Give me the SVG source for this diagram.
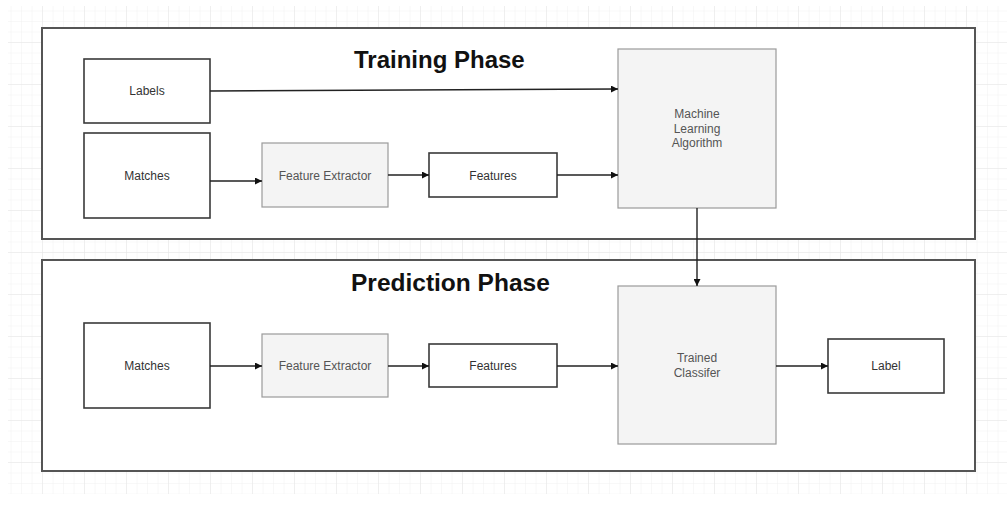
<svg xmlns="http://www.w3.org/2000/svg" width="1007" height="518" viewBox="0 0 1007 518">
  <style>
    .container { fill: #ffffff; stroke: #555555; stroke-width: 2; }
    .box { fill: #ffffff; stroke: #3a3a3a; stroke-width: 1.6; }
    .gbox { fill: #f4f4f4; stroke: #9a9a9a; stroke-width: 1.2; }
    .lbl { font-family: "Liberation Sans", Arial, sans-serif; font-size: 12px; fill: #333333; text-anchor: middle; dominant-baseline: central; }
    .glbl { font-family: "Liberation Sans", Arial, sans-serif; font-size: 12px; fill: #555555; text-anchor: middle; dominant-baseline: central; }
    .title { font-family: "Liberation Sans", Arial, sans-serif; font-size: 24px; font-weight: bold; fill: #111111; }
    .conn { fill: none; stroke: #222222; stroke-width: 1.4; marker-end: url(#arrow); }
  </style>
  <defs>
    <marker id="arrow" viewBox="0 0 10 10" refX="10" refY="5" markerWidth="7" markerHeight="7" markerUnits="userSpaceOnUse" orient="auto">
      <path d="M0,0 L10,5 L0,10 Z" fill="#111111"/>
    </marker>
    <pattern id="minor" width="10.5" height="10.5" patternUnits="userSpaceOnUse" x="0" y="0">
      <path d="M10.5,0 L0,0 L0,10.5" fill="none" stroke="#f1f1f1" stroke-width="1"/>
    </pattern>
    <pattern id="major" width="42" height="42" patternUnits="userSpaceOnUse" x="0" y="0">
      <rect width="42" height="42" fill="url(#minor)"/>
      <path d="M42,0 L0,0 L0,42" fill="none" stroke="#e6e6e6" stroke-width="1"/>
    </pattern>
  </defs>
  <rect width="1007" height="518" fill="#ffffff"/>
  <rect x="8" y="6" width="999" height="488" fill="url(#major)"/>

  <g id="training-phase">
    <rect class="container" x="42" y="28" width="933" height="211"/>
    <text class="title" x="354" y="68">Training Phase</text>
  </g>
  <g id="prediction-phase">
    <rect class="container" x="42" y="260" width="933" height="211"/>
    <text class="title" x="351" y="291" style="font-size:24.5px">Prediction Phase</text>
  </g>

  <g id="labels">
    <rect class="box" x="84" y="59" width="126" height="64"/>
    <text class="lbl" x="147" y="91">Labels</text>
  </g>
  <g id="matches-train">
    <rect class="box" x="84" y="133" width="126" height="85"/>
    <text class="lbl" x="147" y="176">Matches</text>
  </g>
  <g id="feature-extractor-train">
    <rect class="gbox" x="262" y="143" width="126" height="64"/>
    <text class="glbl" x="325" y="176">Feature Extractor</text>
  </g>
  <g id="features-train">
    <rect class="box" x="429" y="153" width="128" height="44"/>
    <text class="lbl" x="493" y="176">Features</text>
  </g>
  <g id="ml-algorithm">
    <rect class="gbox" x="618" y="49" width="158" height="159"/>
    <text class="glbl" x="697" y="114">Machine</text>
    <text class="glbl" x="697" y="128.5">Learning</text>
    <text class="glbl" x="697" y="143">Algorithm</text>
  </g>

  <g id="matches-predict">
    <rect class="box" x="84" y="323" width="126" height="85"/>
    <text class="lbl" x="147" y="366">Matches</text>
  </g>
  <g id="feature-extractor-predict">
    <rect class="gbox" x="262" y="334" width="126" height="63"/>
    <text class="glbl" x="325" y="366">Feature Extractor</text>
  </g>
  <g id="features-predict">
    <rect class="box" x="429" y="344" width="128" height="43"/>
    <text class="lbl" x="493" y="366">Features</text>
  </g>
  <g id="trained-classifier">
    <rect class="gbox" x="618" y="286" width="158" height="158"/>
    <text class="glbl" x="697" y="358">Trained</text>
    <text class="glbl" x="697" y="373">Classifer</text>
  </g>
  <g id="label">
    <rect class="box" x="828" y="339" width="116" height="54"/>
    <text class="lbl" x="886" y="366">Label</text>
  </g>

  <g id="connectors">
    <path class="conn" d="M210,91 L618,89"/>
    <path class="conn" d="M210,181 L262,181"/>
    <path class="conn" d="M388,175 L429,175"/>
    <path class="conn" d="M557,175 L618,175"/>
    <path class="conn" d="M697,208 L697,286"/>
    <path class="conn" d="M210,366 L262,366"/>
    <path class="conn" d="M388,366 L429,366"/>
    <path class="conn" d="M557,366 L618,366"/>
    <path class="conn" d="M776,366 L828,366"/>
  </g>
</svg>
